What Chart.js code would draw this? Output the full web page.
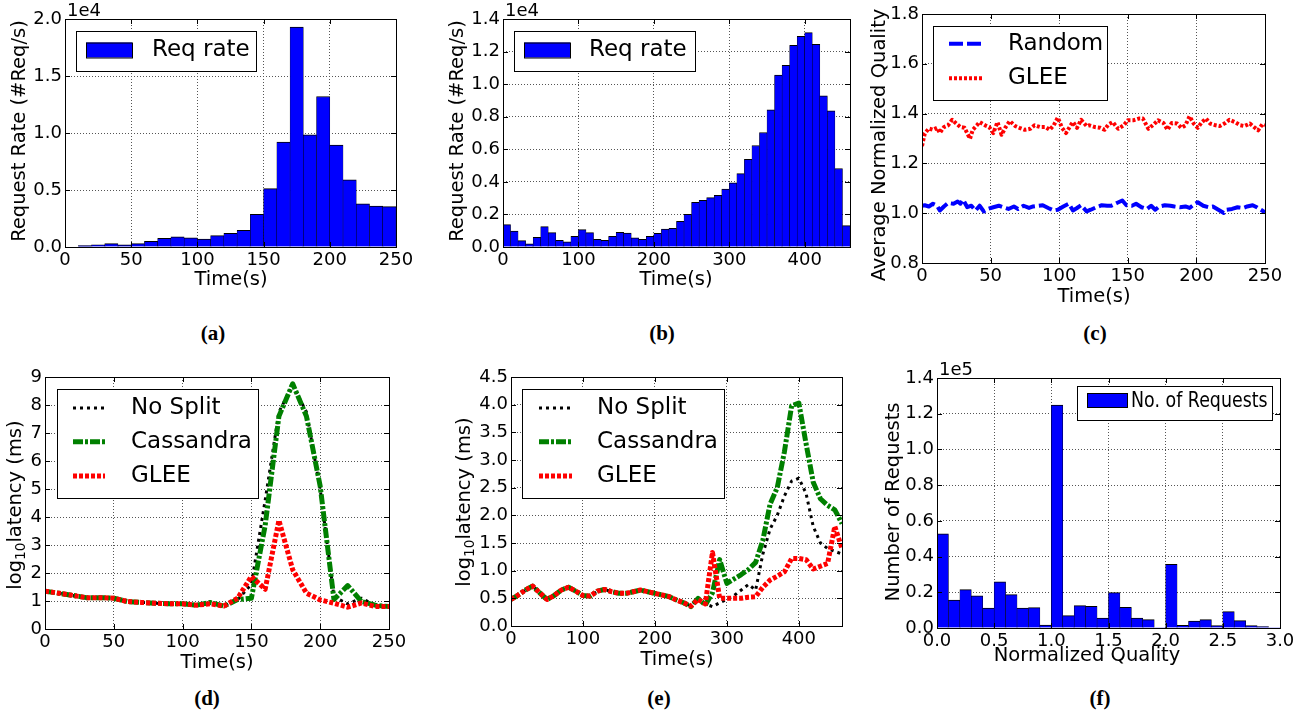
<!DOCTYPE html>
<html lang="en">
<head>
<meta charset="utf-8">
<title>GLEE</title>
<script src="https://cdn.jsdelivr.net/npm/chart.js@4.4.1/dist/chart.umd.min.js"></script>
<style>
  html, body { margin: 0; padding: 0; background: #fff; }
  body { position: relative; width: 1307px; height: 712px; overflow: hidden; }
  canvas { position: absolute; }
  .rotulo-fig { position: absolute; font: bold 21px "Liberation Serif", "DejaVu Serif", serif; color: #000; transform: translate(-50%, -50%); }
</style>
</head>
<body>
<canvas id="g-a"></canvas>
<canvas id="g-b"></canvas>
<canvas id="g-c"></canvas>
<canvas id="g-d"></canvas>
<canvas id="g-e"></canvas>
<canvas id="g-f"></canvas>
<div class="rotulo-fig" style="left:213px;top:333px">(a)</div>
<div class="rotulo-fig" style="left:662px;top:333px">(b)</div>
<div class="rotulo-fig" style="left:1095px;top:333px">(c)</div>
<div class="rotulo-fig" style="left:207px;top:698px">(d)</div>
<div class="rotulo-fig" style="left:659px;top:698px">(e)</div>
<div class="rotulo-fig" style="left:1100px;top:698px">(f)</div>
<script>
const FONTE = '"DejaVu Sans", sans-serif';

// =====================================================
// DADOS
// =====================================================
// (a) taxa de requisições, bins de 10 s
const larguraBinA = 10;
const taxaA = [40, 120, 200, 300, 180, 300, 500, 760, 900, 800, 700, 1000, 1200, 1460, 2870,
  5120, 9200, 19300, 9840, 13200, 8930, 5900, 3780, 3600, 3540];
const ticksXA = [0, 50, 100, 150, 200, 250];
const ticksYA = [0, 5000, 10000, 15000, 20000];

// (b) taxa de requisições, bins de 10 s
const larguraBinB = 10;
const taxaB = [1370, 980, 390, 200, 590, 1250, 880, 410, 310, 660, 1070, 880, 470, 410, 660,
  900, 860, 570, 470, 660, 840, 1100, 1150, 1580, 2000, 2750, 2870, 3030, 3180, 3550, 3940,
  4510, 5390, 6230, 7030, 8420, 10560, 11150, 12380, 12930, 13160, 12440, 9280, 8360, 4820, 1310];
const ticksXB = [0, 100, 200, 300, 400];
const ticksYB = [0, 2000, 4000, 6000, 8000, 10000, 12000, 14000];

// (c) qualidade normalizada média
const tempoGleeC = [0, 2, 5, 8, 11, 13, 16, 19, 22, 25, 28, 31, 35, 37, 40, 42, 46, 49, 52, 55,
  58, 61, 64, 68, 71, 75, 79, 82, 86, 90, 93, 96, 99, 102, 105, 108, 110, 113, 116, 120,
  122, 126, 130, 133, 136, 139, 143, 147, 150, 154, 158, 161, 165, 169, 172, 176, 179, 182, 186, 189,
  192, 195, 198, 201, 204, 207, 210, 214, 217, 221, 224, 228, 232, 235, 239, 242, 245, 248, 250];
const gleeC = [1.27, 1.32, 1.34, 1.335, 1.343, 1.322, 1.346, 1.353, 1.375, 1.36,
  1.346, 1.343, 1.299, 1.335, 1.353, 1.366, 1.353, 1.346, 1.322, 1.366,
  1.315, 1.346, 1.37, 1.35, 1.343, 1.335, 1.339, 1.353, 1.346, 1.346,
  1.335, 1.353, 1.384, 1.343, 1.322, 1.35, 1.366, 1.343, 1.375, 1.35,
  1.353, 1.346, 1.343, 1.335, 1.357, 1.366, 1.339, 1.353, 1.373, 1.373,
  1.38, 1.38, 1.339, 1.357, 1.373, 1.362, 1.335, 1.362, 1.36, 1.343,
  1.353, 1.389, 1.36, 1.343, 1.366, 1.38, 1.36, 1.353, 1.35, 1.362,
  1.375, 1.366, 1.353, 1.35, 1.36, 1.346, 1.333, 1.357, 1.353];
const tempoRandomC = [0, 2, 5, 8, 11, 13, 16, 19, 23, 26, 28, 30, 33, 36, 39, 42, 45, 48, 52, 56,
  59, 63, 67, 70, 74, 78, 81, 85, 88, 92, 96, 99, 103, 107, 110, 113, 116, 120, 123, 127,
  131, 135, 138, 142, 146, 149, 153, 156, 160, 164, 167, 170, 173, 177, 181, 184, 188, 192, 195, 199,
  201, 205, 209, 212, 216, 220, 222, 226, 230, 234, 237, 241, 244, 247, 250];
const randomC = [1.03, 1.032, 1.027, 1.038, 1.03, 1.011, 1.027, 1.041, 1.038, 1.047,
  1.038, 1.054, 1.024, 1.03, 1.011, 1.03, 1.007, 1.017, 1.024, 1.03,
  1.024, 1.017, 1.027, 1.017, 1.03, 1.021, 1.027, 1.03, 1.032, 1.021,
  1.011, 1.014, 1.027, 1.038, 1.011, 1.021, 1.032, 1.007, 1.014, 1.024,
  1.032, 1.03, 1.03, 1.041, 1.051, 1.032, 1.03, 1.038, 1.024, 1.017,
  1.03, 1.014, 1.027, 1.032, 1.03, 1.027, 1.024, 1.027, 1.021, 1.038,
  1.044, 1.03, 1.024, 1.027, 1.014, 1.001, 1.014, 1.017, 1.024, 1.021,
  1.027, 1.032, 1.024, 1.014, 1.003];
const ticksXC = [0, 50, 100, 150, 200, 250];
const ticksYC = [0.8, 1.0, 1.2, 1.4, 1.6, 1.8];

// (d) log10 latência, amostras a cada 10 s
const tempoD = [0, 10, 20, 30, 40, 50, 60, 70, 80, 90, 100, 110, 120, 130, 140, 150, 160, 170,
  180, 190, 200, 210, 220, 230, 240, 250];
const noSplitD = [1.35, 1.28, 1.2, 1.12, 1.12, 1.1, 0.98, 0.95, 0.92, 0.9, 0.9, 0.85, 0.9, 0.82,
  1.05, 1.6, 4.6, 7.75, 8.7, 7.75, 5.0, 1.15, 0.9, 1.1, 0.85, 0.8];
const cassandraD = [1.35, 1.28, 1.2, 1.12, 1.12, 1.1, 0.98, 0.95, 0.92, 0.9, 0.9, 0.85, 0.95, 0.82,
  1.05, 1.1, 3.7, 7.6, 8.76, 7.6, 5.1, 1.05, 1.55, 0.98, 0.85, 0.8];
const gleeD = [1.35, 1.28, 1.2, 1.12, 1.12, 1.1, 0.98, 0.95, 0.92, 0.9, 0.9, 0.85, 0.9, 0.82,
  1.1, 1.88, 1.42, 3.88, 2.12, 1.28, 1.04, 0.92, 0.78, 0.93, 0.8, 0.8];
const ticksXD = [0, 50, 100, 150, 200, 250];
const ticksYD = [0, 1, 2, 3, 4, 5, 6, 7, 8, 9];

// (e) log10 latência, amostras a cada 10 s
const tempoE = [0, 10, 20, 30, 40, 50, 60, 70, 80, 90, 100, 110, 120, 130, 140, 150, 160, 170,
  180, 190, 200, 210, 220, 230, 240, 250, 260, 270, 280, 290, 300, 310, 320, 330, 340, 350,
  360, 370, 380, 390, 400, 410, 420, 430, 440, 450, 460];
const noSplitE = [0.48, 0.56, 0.65, 0.72, 0.6, 0.48, 0.55, 0.65, 0.7, 0.63,
  0.55, 0.54, 0.63, 0.66, 0.62, 0.59, 0.59, 0.62, 0.65, 0.62,
  0.59, 0.56, 0.53, 0.47, 0.42, 0.36, 0.5, 0.4, 0.35, 0.42,
  0.48, 0.55, 0.65, 0.75, 0.65, 1.3, 1.75, 2.0, 2.35, 2.62,
  2.67, 2.4, 1.8, 1.5, 1.4, 1.35, 1.3];
const cassandraE = [0.48, 0.56, 0.65, 0.72, 0.6, 0.48, 0.55, 0.65, 0.7, 0.63,
  0.55, 0.54, 0.63, 0.66, 0.62, 0.59, 0.59, 0.62, 0.65, 0.62,
  0.59, 0.56, 0.53, 0.47, 0.42, 0.35, 0.5, 0.38, 0.6, 1.2,
  0.77, 0.85, 0.93, 1.02, 1.15, 1.55, 2.2, 2.5, 3.15, 3.98,
  4.03, 3.3, 2.6, 2.3, 2.18, 2.1, 1.85];
const gleeE = [0.48, 0.56, 0.65, 0.72, 0.6, 0.48, 0.55, 0.65, 0.7, 0.63,
  0.55, 0.54, 0.63, 0.66, 0.62, 0.59, 0.59, 0.62, 0.65, 0.62,
  0.59, 0.56, 0.53, 0.47, 0.42, 0.36, 0.48, 0.4, 1.33, 0.5,
  0.5, 0.5, 0.5, 0.52, 0.53, 0.7, 0.83, 0.9, 0.98, 1.22,
  1.22, 1.2, 1.03, 1.08, 1.13, 1.8, 1.4];
const ticksXE = [0, 100, 200, 300, 400];
const ticksYE = [0, 0.5, 1.0, 1.5, 2.0, 2.5, 3.0, 3.5, 4.0, 4.5];

// (f) histograma de qualidade normalizada, bins de 0.1
const larguraBinF = 0.1;
const pedidosF = [52800, 15700, 21500, 18000, 11200, 25800, 18700, 11200, 11400, 1700,
  124800, 6900, 12500, 12200, 5600, 19800, 11600, 5600, 4700, 200,
  35600, 1500, 3900, 4700, 1300, 9200, 4100, 1300, 800, 200];
const ticksXF = [0, 0.5, 1.0, 1.5, 2.0, 2.5, 3.0];
const ticksYF = [0, 20000, 40000, 60000, 80000, 100000, 120000, 140000];

// =====================================================
// FORMATAÇÃO
// =====================================================
const fmtInt = v => String(v);
const fmt1 = v => v.toFixed(1);
const fmtE4 = v => (v / 1e4).toFixed(1);
const fmtE5 = v => (v / 1e5).toFixed(1);

// =====================================================
// PLUGIN: moldura, ticks para dentro, legenda, títulos
// =====================================================
function textoComposto(ctx, partes, tam) {
  // mede partes [{t, sub}] e devolve largura total
  let w = 0;
  partes.forEach(p => {
    ctx.font = `${p.sub ? tam * 0.7 : tam}px ${FONTE}`;
    p.w = ctx.measureText(p.t).width;
    w += p.w;
  });
  return w;
}

const pluginMoldura = {
  id: 'moldura',
  afterDraw(chart, args, o) {
    const { ctx, chartArea: a, scales } = chart;
    ctx.save();

    // ticks para dentro nos quatro lados
    ctx.strokeStyle = '#000';
    ctx.lineWidth = 1;
    ctx.beginPath();
    scales.x.ticks.forEach(t => {
      const px = Math.round(scales.x.getPixelForValue(t.value)) + 0.5;
      ctx.moveTo(px, a.bottom); ctx.lineTo(px, a.bottom - 5);
      ctx.moveTo(px, a.top); ctx.lineTo(px, a.top + 5);
    });
    scales.y.ticks.forEach(t => {
      const py = Math.round(scales.y.getPixelForValue(t.value)) + 0.5;
      ctx.moveTo(a.left, py); ctx.lineTo(a.left + 5, py);
      ctx.moveTo(a.right, py); ctx.lineTo(a.right - 5, py);
    });
    ctx.stroke();
    ctx.strokeRect(Math.round(a.left) + 0.5, Math.round(a.top) + 0.5,
      Math.round(a.right - a.left), Math.round(a.bottom - a.top));

    // legenda
    const L = o.legenda;
    if (L) {
      const [bx, by, bw, bh] = L.caixa;
      ctx.fillStyle = '#fff';
      ctx.fillRect(a.left + bx, a.top + by, bw, bh);
      ctx.strokeStyle = '#000';
      ctx.lineWidth = 1;
      ctx.strokeRect(Math.round(a.left + bx) + 0.5, Math.round(a.top + by) + 0.5, bw, bh);
      L.itens.forEach(it => {
        const y = a.top + it.cy;
        if (it.tipo === 'barra') {
          ctx.fillStyle = it.cor;
          ctx.fillRect(a.left + L.sw[0], y - it.sh / 2, L.sw[1] - L.sw[0], it.sh);
          ctx.strokeStyle = '#000';
          ctx.strokeRect(a.left + L.sw[0] + 0.5, y - it.sh / 2 + 0.5, L.sw[1] - L.sw[0], it.sh);
        } else {
          ctx.strokeStyle = it.cor;
          ctx.lineWidth = it.largura;
          ctx.setLineDash(it.dash);
          ctx.beginPath();
          ctx.moveTo(a.left + L.sw[0], y);
          ctx.lineTo(a.left + L.sw[1], y);
          ctx.stroke();
          ctx.setLineDash([]);
        }
        ctx.save();
        ctx.fillStyle = '#000';
        ctx.font = `${L.fonte}px ${FONTE}`;
        ctx.textBaseline = 'middle';
        ctx.translate(a.left + L.tx, a.top + (it.ty || it.cy));
        ctx.scale(L.condensar || 1, 1);
        ctx.fillText(it.rotulo, 0, 0);
        ctx.restore();
      });
    }

    // texto de escala (1e4, 1e5)
    if (o.escala) {
      ctx.fillStyle = '#000';
      ctx.font = `18px ${FONTE}`;
      ctx.textBaseline = 'alphabetic';
      ctx.textAlign = 'left';
      ctx.fillText(o.escala, a.left + 2, a.top - 3);
    }

    // títulos dos eixos (coordenadas da página)
    ctx.fillStyle = '#000';
    ctx.textBaseline = 'middle';
    const tx = o.tituloX;
    ctx.font = `19.5px ${FONTE}`;
    ctx.textAlign = 'center';
    ctx.fillText(tx.texto, tx.cx - o.ox, tx.cy - o.oy);

    const ty = o.tituloY;
    const partes = ty.partes || [{ t: ty.texto, sub: false }];
    const tam = 19.5;
    const w = textoComposto(ctx, partes, tam);
    ctx.save();
    ctx.translate(ty.cx - o.ox, ty.cy - o.oy);
    ctx.rotate(-Math.PI / 2);
    ctx.textAlign = 'left';
    let x = -w / 2;
    partes.forEach(p => {
      ctx.font = `${p.sub ? tam * 0.7 : tam}px ${FONTE}`;
      ctx.fillText(p.t, x, p.sub ? 5 : 0);
      x += p.w;
    });
    ctx.restore();

    ctx.restore();
  }
};

// =====================================================
// MONTAGEM DOS PAINÉIS
// =====================================================
function eixo(c, qual, esq) {
  return {
    type: 'linear',
    min: c.ticks[0],
    max: c.max !== undefined ? c.max : c.ticks[c.ticks.length - 1],
    offset: false,
    grid: { color: '#555', lineWidth: 1, drawTicks: false, offset: false },
    border: { display: false, dash: [1, 2] },
    ticks: {
      font: { family: FONTE, size: 18 },
      color: '#000',
      padding: 3,
      maxRotation: 0,
      autoSkip: false,
      callback: v => c.formato(v),
    },
    afterBuildTicks: s => { s.ticks = c.ticks.map(v => ({ value: v })); },
    afterFit: s => { if (qual === 'x') s.height = 50; else s.width = esq; },
  };
}

function criarPainel(cfg) {
  const { id, area, esq, tipo, datasets, x, y, extras } = cfg;
  const topo = Math.min(19, area.t);
  const canvas = document.getElementById(id);
  const ox = area.l - esq, oy = area.t - topo;
  canvas.width = area.r - area.l + esq + 24;
  canvas.height = area.b - area.t + topo + 50;
  canvas.style.left = ox + 'px';
  canvas.style.top = oy + 'px';

  new Chart(canvas, {
    type: tipo,
    data: { datasets },
    options: {
      responsive: false,
      animation: false,
      events: [],
      layout: { padding: { top: topo, right: 24, left: 0, bottom: 0 } },
      plugins: {
        legend: { display: false },
        tooltip: { enabled: false },
        moldura: { ...extras, ox, oy },
      },
      scales: { x: eixo(x, 'x', esq), y: eixo(y, 'y', esq) },
    },
    plugins: [pluginMoldura],
  });
}

function barras(valores, largura) {
  return {
    data: valores.map((v, i) => ({ x: (i + 0.5) * largura, y: v })),
    backgroundColor: '#0000ff',
    borderColor: '#000',
    borderWidth: { top: 1, left: 0.5, right: 0.5, bottom: 0 },
    barPercentage: 1,
    categoryPercentage: 1,
    clip: 0,
  };
}

function linha(tempos, valores, cor, largura, dash, ordem) {
  return {
    data: tempos.map((t, i) => ({ x: t, y: valores[i] })),
    borderColor: cor,
    borderWidth: largura,
    borderDash: dash,
    borderJoinStyle: 'round',
    pointRadius: 0,
    tension: 0,
    fill: false,
    order: ordem,
    clip: 0,
  };
}

// estilos das séries
const estNoSplit = { cor: '#000000', largura: 3, dash: [3, 4] };
const estCassandra = { cor: '#008000', largura: 5, dash: [10, 2, 3, 2] };
const estGlee = { cor: '#ff0000', largura: 5, dash: [4, 2] };
const estRandom = { cor: '#0000ff', largura: 4, dash: [14, 4] };
const estGleeC = { cor: '#ff0000', largura: 4, dash: [3, 2] };

function itemLinha(est, rotulo, cy) {
  return { tipo: 'linha', cor: est.cor, largura: est.largura, dash: est.dash, rotulo, cy };
}

const legendaLatencia = (sw) => ({
  caixa: [11, 12, 202, 109], fonte: 23, sw, tx: 86,
  itens: [
    itemLinha(estNoSplit, 'No Split', 31),
    itemLinha(estCassandra, 'Cassandra', 64.7),
    itemLinha(estGlee, 'GLEE', 99),
  ],
});

// (a)
criarPainel({
  id: 'g-a', area: { l: 65, t: 19, r: 396, b: 247 }, esq: 60, tipo: 'bar',
  datasets: [barras(taxaA, larguraBinA)],
  x: { ticks: ticksXA, formato: fmtInt },
  y: { ticks: ticksYA, formato: fmtE4 },
  extras: {
    escala: '1e4',
    legenda: { caixa: [11, 12, 180, 40], fonte: 23, sw: [21, 67], tx: 87,
      itens: [{ tipo: 'barra', cor: '#0000ff', sh: 15, cy: 31, rotulo: 'Req rate' }] },
    tituloX: { texto: 'Time(s)', cx: 231, cy: 280 },
    tituloY: { texto: 'Request Rate (#Req/s)', cx: 20, cy: 131 },
  },
});

// (b)
criarPainel({
  id: 'g-b', area: { l: 503, t: 19, r: 850, b: 247 }, esq: 60, tipo: 'bar',
  datasets: [barras(taxaB, larguraBinB)],
  x: { ticks: ticksXB, max: 460, formato: fmtInt },
  y: { ticks: ticksYB, formato: fmtE4 },
  extras: {
    escala: '1e4',
    legenda: { caixa: [11, 12, 181, 40], fonte: 23, sw: [21, 67], tx: 86,
      itens: [{ tipo: 'barra', cor: '#0000ff', sh: 15, cy: 31, rotulo: 'Req rate' }] },
    tituloX: { texto: 'Time(s)', cx: 676, cy: 280 },
    tituloY: { texto: 'Request Rate (#Req/s)', cx: 458, cy: 131 },
  },
});

// (c)
criarPainel({
  id: 'g-c', area: { l: 922, t: 14, r: 1265, b: 263 }, esq: 60, tipo: 'line',
  datasets: [
    linha(tempoRandomC, randomC, estRandom.cor, estRandom.largura, estRandom.dash, 2),
    linha(tempoGleeC, gleeC, estGleeC.cor, estGleeC.largura, estGleeC.dash, 1),
  ],
  x: { ticks: ticksXC, formato: fmtInt },
  y: { ticks: ticksYC, formato: fmt1 },
  extras: {
    legenda: { caixa: [11, 12, 174, 74], fonte: 23, sw: [27, 60], tx: 86,
      itens: [itemLinha(estRandom, 'Random', 29.7), itemLinha(estGleeC, 'GLEE', 64.3)] },
    tituloX: { texto: 'Time(s)', cx: 1094, cy: 297 },
    tituloY: { texto: 'Average Normalized Quality', cx: 880, cy: 145 },
  },
});

// (d)
const tituloLatencia = [
  { t: 'log', sub: false }, { t: '10', sub: true }, { t: 'latency (ms)', sub: false },
];
criarPainel({
  id: 'g-d', area: { l: 45, t: 377, r: 389, b: 629 }, esq: 45, tipo: 'line',
  datasets: [
    linha(tempoD, noSplitD, estNoSplit.cor, estNoSplit.largura, estNoSplit.dash, 3),
    linha(tempoD, cassandraD, estCassandra.cor, estCassandra.largura, estCassandra.dash, 2),
    linha(tempoD, gleeD, estGlee.cor, estGlee.largura, estGlee.dash, 1),
  ],
  x: { ticks: ticksXD, formato: fmtInt },
  y: { ticks: ticksYD, formato: fmtInt },
  extras: {
    legenda: { ...legendaLatencia([28, 60]), caixa: [12, 12, 201, 109] },
    tituloX: { texto: 'Time(s)', cx: 217, cy: 663 },
    tituloY: { partes: tituloLatencia, cx: 16, cy: 505 },
  },
});

// (e)
criarPainel({
  id: 'g-e', area: { l: 511, t: 377, r: 842, b: 626 }, esq: 60, tipo: 'line',
  datasets: [
    linha(tempoE, noSplitE, estNoSplit.cor, estNoSplit.largura, estNoSplit.dash, 3),
    linha(tempoE, cassandraE, estCassandra.cor, estCassandra.largura, estCassandra.dash, 2),
    linha(tempoE, gleeE, estGlee.cor, estGlee.largura, estGlee.dash, 1),
  ],
  x: { ticks: ticksXE, max: 460, formato: fmtInt },
  y: { ticks: ticksYE, formato: fmt1 },
  extras: {
    legenda: legendaLatencia([28, 61]),
    tituloX: { texto: 'Time(s)', cx: 677, cy: 660 },
    tituloY: { partes: tituloLatencia.map(p => ({ ...p })), cx: 465, cy: 502 },
  },
});

// (f)
criarPainel({
  id: 'g-f', area: { l: 937, t: 378, r: 1280, b: 628 }, esq: 60, tipo: 'bar',
  datasets: [barras(pedidosF, larguraBinF)],
  x: { ticks: ticksXF, formato: fmt1 },
  y: { ticks: ticksYF, formato: fmtE5 },
  extras: {
    escala: '1e5',
    legenda: { caixa: [140, 8, 195, 34], fonte: 20.5, condensar: 0.85, sw: [150, 190], tx: 194,
      itens: [{ tipo: 'barra', cor: '#0000ff', sh: 14, cy: 22, ty: 24, rotulo: 'No. of Requests' }] },
    tituloX: { texto: 'Normalized Quality', cx: 1087, cy: 656 },
    tituloY: { texto: 'Number of Requests', cx: 894, cy: 502 },
  },
});
</script>
</body>
</html>
